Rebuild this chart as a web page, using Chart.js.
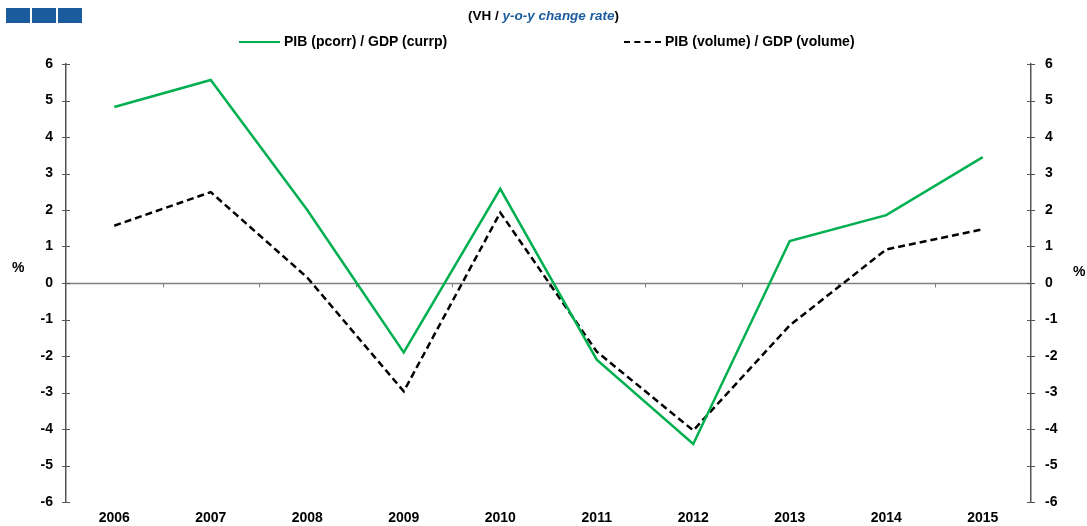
<!DOCTYPE html>
<html>
<head>
<meta charset="utf-8">
<script src="https://cdn.jsdelivr.net/npm/chart.js@4.4.1/dist/chart.umd.min.js"></script>
<style>
  html, body { margin: 0; padding: 0; background: #fff; }
  #wrap { position: relative; width: 1087px; height: 526px; font-family: "Liberation Sans", Arial, sans-serif; }
  #c { position: absolute; left: 0; top: 0; }
  .sq { position: absolute; top: 8px; width: 24px; height: 15px; background: #1a5c9e; }
  #title { position: absolute; top: 8px; left: 0; width: 1087px; text-align: center; font-size: 13.5px; font-weight: bold; color: #000; }
  #title i { color: #1a5c9e; }
  .leg { position: absolute; top: 33px; font-size: 14px; font-weight: bold; color: #000; white-space: nowrap; }
  .pct { position: absolute; font-size: 14px; font-weight: bold; color: #000; }
</style>
</head>
<body>
<div id="wrap">
  <canvas id="c" width="1087" height="526"></canvas>
  <div class="sq" style="left:6px"></div>
  <div class="sq" style="left:32px"></div>
  <div class="sq" style="left:58px"></div>
  <div id="title"><span style="position:relative;left:0px">(VH / <i>y-o-y change rate</i>)</span></div>
  <div class="leg" style="left:239px;"><span style="display:inline-block;width:41px;border-top:2.5px solid #00B050;vertical-align:middle;margin-right:4px;"></span>PIB (pcorr) / GDP (currp)</div>
  <div class="leg" style="left:624px;"><span style="display:inline-block;width:37px;border-top:2.5px dashed #000;vertical-align:middle;margin-right:4px;"></span>PIB (volume) / GDP (volume)</div>
  <div class="pct" style="left:12px;top:259px;">%</div>
  <div class="pct" style="left:1073px;top:263px;">%</div>
</div>
<script>
const categories = ["2006","2007","2008","2009","2010","2011","2012","2013","2014","2015"];
const gdpCurrent = [4.82, 5.56, 2.0, -1.9, 2.58, -2.1, -4.41, 1.15, 1.86, 3.45];
const gdpVolume  = [1.57, 2.49, 0.15, -2.97, 1.93, -1.88, -4.04, -1.16, 0.92, 1.47];
const yMin = -6, yMax = 6, yStep = 1;

const axisPlugin = {
  id: 'axisPlugin',
  beforeDatasetsDraw(chart) {
    const ctx = chart.ctx;
    const y = chart.scales.y;
    const x = chart.scales.x;
    const area = chart.chartArea;
    ctx.save();
    const y0 = Math.round(y.getPixelForValue(0)) + 0.5;
    ctx.strokeStyle = '#808080';
    ctx.lineWidth = 1.5;
    ctx.beginPath();
    ctx.moveTo(area.left, y0);
    ctx.lineTo(area.right, y0);
    ctx.stroke();
    ctx.lineWidth = 1;
    for (let i = 1; i < categories.length; i++) {
      const px = Math.round((x.getPixelForTick(i - 1) + x.getPixelForTick(i)) / 2) + 0.5;
      ctx.beginPath();
      ctx.moveTo(px, y0);
      ctx.lineTo(px, y0 + 4);
      ctx.stroke();
    }
    ctx.strokeStyle = '#555';
    ctx.lineWidth = 1.2;
    for (let v = yMin; v <= yMax; v += yStep) {
      const py = Math.round(y.getPixelForValue(v)) + 0.5;
      ctx.beginPath();
      ctx.moveTo(area.left - 4, py); ctx.lineTo(area.left + 4, py);
      ctx.moveTo(area.right - 4, py); ctx.lineTo(area.right + 4, py);
      ctx.stroke();
    }
    ctx.restore();
  }
};

const tickFont = { family: '"Liberation Sans", Arial, sans-serif', size: 14, weight: 'bold' };

new Chart(document.getElementById('c'), {
  type: 'line',
  data: {
    labels: categories,
    datasets: [
      { label: 'PIB (pcorr) / GDP (currp)', data: gdpCurrent, borderColor: '#00B050', borderWidth: 2.5, pointRadius: 0, tension: 0, fill: false },
      { label: 'PIB (volume) / GDP (volume)', data: gdpVolume, borderColor: '#000', borderWidth: 2.5, borderDash: [7, 4], pointRadius: 0, tension: 0, fill: false }
    ]
  },
  options: {
    responsive: false,
    animation: false,
    layout: { padding: { top: 64, left: 0, right: 0, bottom: 0 } },
    plugins: { legend: { display: false }, title: { display: false }, tooltip: { enabled: false } },
    scales: {
      x: {
        type: 'category',
        offset: true,
        grid: { display: false, drawTicks: false },
        border: { display: false },
        ticks: { font: tickFont, color: '#000', padding: 8, maxRotation: 0 },
        afterFit(s) { s.height = 24; }
      },
      y: {
        position: 'left',
        min: yMin, max: yMax,
        ticks: { stepSize: yStep, font: tickFont, color: '#000', padding: 13 },
        grid: { display: false, drawTicks: false },
        border: { display: true, color: '#555', width: 1.5 },
        afterFit(s) { s.width = 66; }
      },
      y1: {
        position: 'right',
        min: yMin, max: yMax,
        ticks: { stepSize: yStep, font: tickFont, color: '#000', padding: 14 },
        grid: { display: false, drawTicks: false },
        border: { display: true, color: '#555', width: 1.5 },
        afterFit(s) { s.width = 56; }
      }
    }
  },
  plugins: [axisPlugin]
});
</script>
</body>
</html>
